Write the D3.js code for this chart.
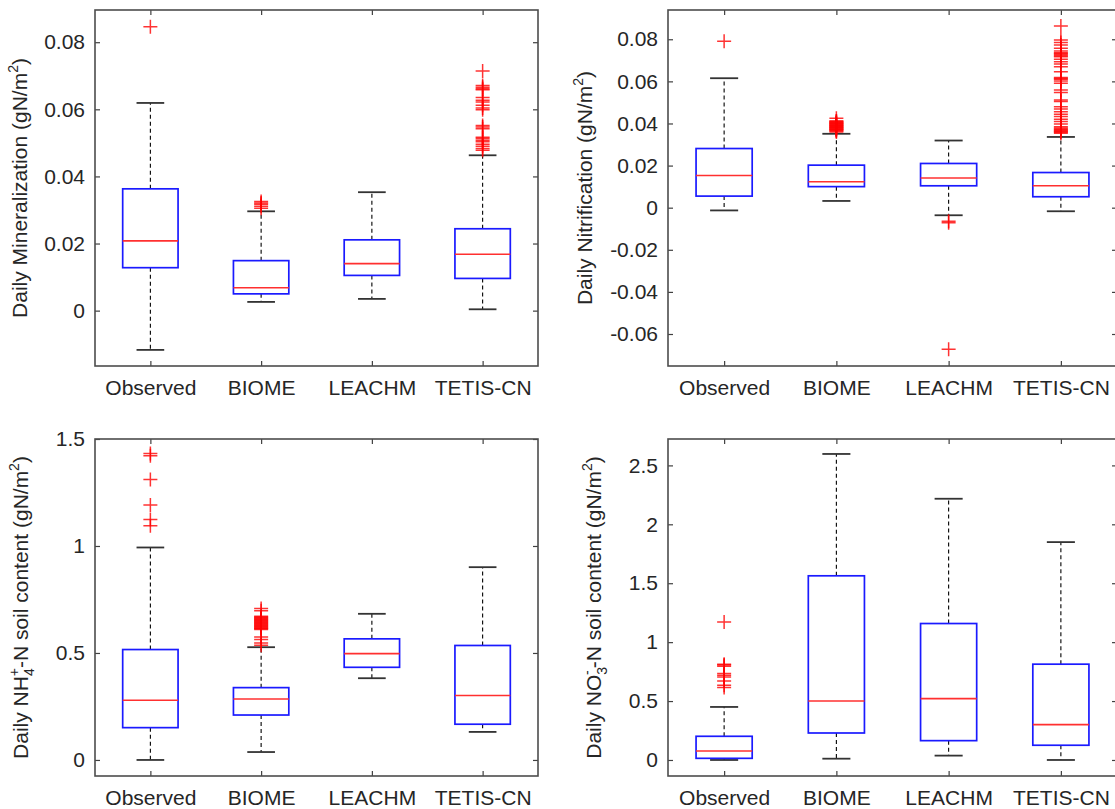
<!DOCTYPE html>
<html>
<head>
<meta charset="utf-8">
<script src="https://cdn.jsdelivr.net/npm/d3@7"></script>
<style>
  body { margin: 0; background: #fff; }
  svg { display: block; font-family: "Liberation Sans", Arial, sans-serif; }
</style>
</head>
<body>
<svg width="1115" height="809"></svg>
<script>
// categories on the x axis
const categories = ['Observed', 'BIOME', 'LEACHM', 'TETIS-CN'];

// box stats per model: [lower whisker, q1, median, q3, upper whisker]
const mineralStats = [
  [-0.0117, 0.0128, 0.0208, 0.0363, 0.0619],
  [0.0026, 0.0050, 0.0068, 0.0149, 0.0296],
  [0.0035, 0.0105, 0.0140, 0.0211, 0.0353],
  [0.0004, 0.0096, 0.0168, 0.0244, 0.0463]
];
const mineralOut = [
  [0.0846],
  [0.0325, 0.0321, 0.0317, 0.0311, 0.0305],
  [],
  [0.0714, 0.0671, 0.0666, 0.0661, 0.0658, 0.0635, 0.0627, 0.0622, 0.0612, 0.0604, 0.0599,
   0.0552, 0.0547, 0.0542, 0.0517, 0.0513, 0.0508, 0.0503, 0.0496, 0.0490, 0.0483, 0.0478]
];

const nitrifOut = [
  [0.0791],
  [0.0425, 0.0412, 0.0410, 0.0407, 0.0404, 0.0402, 0.0400, 0.0397, 0.0394, 0.0392, 0.0390,
   0.0387, 0.0384, 0.0382, 0.0380, 0.0377, 0.0374, 0.0372, 0.0370, 0.0367, 0.0364, 0.0360],
  [-0.0065, -0.0072, -0.0673],
  [0.0863, 0.0796, 0.0785, 0.0773, 0.0757, 0.0744, 0.0736, 0.0732, 0.0728, 0.0722, 0.0717,
   0.0705, 0.0693, 0.0682, 0.0670, 0.0646, 0.0618, 0.0614, 0.0610, 0.0602, 0.0591, 0.0559,
   0.0547, 0.0512, 0.0504, 0.0480, 0.0469, 0.0456, 0.0444, 0.0433, 0.0420, 0.0409, 0.0398,
   0.0385, 0.0378, 0.0374, 0.0370, 0.0366, 0.0362, 0.0358, 0.0354]
];
const nitrifStats = [
  [-0.0013, 0.0055, 0.0153, 0.0281, 0.0615],
  [0.0032, 0.0100, 0.0123, 0.0202, 0.0351],
  [-0.0036, 0.0104, 0.0141, 0.0210, 0.0319],
  [-0.0017, 0.0052, 0.0104, 0.0167, 0.0336]
];

const nh4Stats = [
  [0.000, 0.151, 0.279, 0.516, 0.993],
  [0.037, 0.210, 0.285, 0.338, 0.527],
  [0.382, 0.433, 0.497, 0.566, 0.683],
  [0.131, 0.167, 0.301, 0.535, 0.901]
];
const nh4Out = [
  [1.432, 1.422, 1.311, 1.191, 1.124, 1.095],
  [0.708, 0.697, 0.672, 0.668, 0.665, 0.661, 0.658, 0.654, 0.651, 0.647, 0.644, 0.640,
   0.637, 0.633, 0.630, 0.626, 0.623, 0.619, 0.616, 0.613, 0.610, 0.575, 0.563, 0.547, 0.536],
  [],
  []
];

const no3Stats = [
  [0.000, 0.014, 0.076, 0.201, 0.450],
  [0.011, 0.229, 0.501, 1.563, 2.597],
  [0.037, 0.164, 0.521, 1.158, 2.217],
  [0.000, 0.125, 0.300, 0.813, 1.849]
];
const no3Out = [
  [1.172, 0.813, 0.805, 0.796, 0.733, 0.720, 0.705, 0.671, 0.634, 0.615],
  [], [], []
];

// y ticks per panel
const mineralTicks = [0, 0.02, 0.04, 0.06, 0.08];
const nitrifTicks = [-0.06, -0.04, -0.02, 0, 0.02, 0.04, 0.06, 0.08];
const nh4Ticks = [0, 0.5, 1, 1.5];
const no3Ticks = [0, 0.5, 1, 1.5, 2, 2.5];

const svg = d3.select('svg');
const textColor = '#262626';

const panels = [
  {x0: 95, x1: 538, y0: 10, y1: 366, domain: [-0.0165, 0.0896], ticks: mineralTicks,
   stats: mineralStats, out: mineralOut, labelX: 27, label: 'min'},
  {x0: 668, x1: 1117, y0: 10, y1: 366, domain: [-0.0752, 0.0939], ticks: nitrifTicks,
   stats: nitrifStats, out: nitrifOut, labelX: 592, label: 'nit'},
  {x0: 95, x1: 538, y0: 439, y1: 776, domain: [-0.075, 1.5], ticks: nh4Ticks,
   stats: nh4Stats, out: nh4Out, labelX: 28, label: 'nh4'},
  {x0: 668, x1: 1117, y0: 439, y1: 776, domain: [-0.136, 2.724], ticks: no3Ticks,
   stats: no3Stats, out: no3Out, labelX: 601, label: 'no3'}
];

const fmt = d => d === 0 ? '0' : String(+d.toFixed(2));

panels.forEach(p => {
  const x = d3.scaleLinear().domain([0.5, 4.5]).range([p.x0, p.x1]);
  const y = d3.scaleLinear().domain(p.domain).range([p.y1, p.y0]);
  const g = svg.append('g');

  // axes (ticks point inward, box on)
  const styleAxis = sel => {
    sel.select('.domain').remove();
    sel.selectAll('line').attr('stroke', '#404040').attr('stroke-width', 1.2);
    sel.selectAll('text').attr('fill', textColor).style('font-size', '21px')
      .style('font-family', '"Liberation Sans", Arial, sans-serif');
  };
  g.append('g').attr('transform', `translate(${p.x0},0)`)
    .call(d3.axisLeft(y).tickValues(p.ticks).tickFormat(fmt).tickSize(-5).tickPadding(10))
    .call(styleAxis);
  g.append('g').attr('transform', `translate(${p.x1},0)`)
    .call(d3.axisRight(y).tickValues(p.ticks).tickFormat('').tickSize(-5))
    .call(styleAxis);
  g.append('g').attr('transform', `translate(0,${p.y1})`)
    .call(d3.axisBottom(x).tickValues([1, 2, 3, 4]).tickFormat(i => categories[i - 1])
      .tickSize(-5).tickPadding(14))
    .call(styleAxis);
  g.append('g').attr('transform', `translate(0,${p.y0})`)
    .call(d3.axisTop(x).tickValues([1, 2, 3, 4]).tickFormat('').tickSize(-5))
    .call(styleAxis);

  g.append('rect')
    .attr('x', p.x0).attr('y', p.y0)
    .attr('width', p.x1 - p.x0).attr('height', p.y1 - p.y0)
    .attr('fill', 'none').attr('stroke', '#4d4d4d').attr('stroke-width', 1.6);

  const boxes = g.selectAll('.bx').data(p.stats).join('g').attr('class', 'bx');
  const cx = (d, i) => x(i + 1);

  // whiskers
  boxes.append('line')
    .attr('x1', cx).attr('x2', cx)
    .attr('y1', d => y(d[3])).attr('y2', d => y(d[4]))
    .attr('stroke', '#000').attr('stroke-width', 1.1).attr('stroke-dasharray', '4,3');
  boxes.append('line')
    .attr('x1', cx).attr('x2', cx)
    .attr('y1', d => y(d[1])).attr('y2', d => y(d[0]))
    .attr('stroke', '#000').attr('stroke-width', 1.1).attr('stroke-dasharray', '4,3');
  // caps
  [0, 4].forEach(k => {
    boxes.append('line')
      .attr('x1', (d, i) => x(i + 1 - 0.125)).attr('x2', (d, i) => x(i + 1 + 0.125))
      .attr('y1', d => y(d[k])).attr('y2', d => y(d[k]))
      .attr('stroke', '#333').attr('stroke-width', 1.8);
  });
  // box
  boxes.append('rect')
    .attr('x', (d, i) => x(i + 1 - 0.25))
    .attr('width', x(1.25) - x(0.75))
    .attr('y', d => y(d[3]))
    .attr('height', d => y(d[1]) - y(d[3]))
    .attr('fill', 'none').attr('stroke', '#1a1aff').attr('stroke-width', 1.7);
  // median
  boxes.append('line')
    .attr('x1', (d, i) => x(i + 1 - 0.25)).attr('x2', (d, i) => x(i + 1 + 0.25))
    .attr('y1', d => y(d[2])).attr('y2', d => y(d[2]))
    .attr('stroke', '#ff3030').attr('stroke-width', 1.6);

  // outliers
  p.out.forEach((vals, i) => {
    g.selectAll(null).data(vals).join('path')
      .attr('d', 'M-7,0H7M0,-7V7')
      .attr('transform', v => `translate(${x(i + 1)},${y(v)})`)
      .attr('stroke', '#ff0000').attr('stroke-width', 1.5).attr('stroke-opacity', 0.8)
      .attr('fill', 'none');
  });

  // y label
  const cy = (p.y0 + p.y1) / 2;
  const t = g.append('text')
    .attr('transform', `translate(${p.labelX},${cy}) rotate(-90)`)
    .attr('text-anchor', 'middle')
    .attr('fill', textColor)
    .style('font-size', '21px');
  const sup2 = () => {
    t.append('tspan').text('(gN/m');
    t.append('tspan').attr('dy', -9).style('font-size', '14px').text('2');
    t.append('tspan').attr('dy', 9).text(')');
  };
  if (p.label === 'min') {
    t.append('tspan').text('Daily Mineralization ');
    sup2();
  } else if (p.label === 'nit') {
    t.append('tspan').text('Daily Nitrification ');
    sup2();
  } else if (p.label === 'nh4') {
    t.append('tspan').text('Daily NH');
    t.append('tspan').attr('dy', 6).style('font-size', '14px').text('4');
    t.append('tspan').attr('dx', -8).attr('dy', -15).style('font-size', '14px').text('+');
    t.append('tspan').attr('dy', 9).text('-N soil content ');
    sup2();
  } else {
    t.append('tspan').text('Daily NO');
    t.append('tspan').attr('dy', 6).style('font-size', '14px').text('3');
    t.append('tspan').attr('dx', -8).attr('dy', -15).style('font-size', '14px').text('-');
    t.append('tspan').attr('dx', 2).attr('dy', 9).text('-N soil content ');
    sup2();
  }
});
</script>
</body>
</html>
